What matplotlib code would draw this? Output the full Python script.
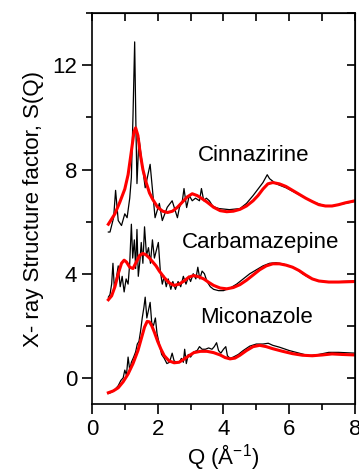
import matplotlib
matplotlib.use("Agg")
import matplotlib.pyplot as plt
from matplotlib.ticker import MultipleLocator

plt.rcParams['font.family'] = ['Liberation Sans', 'DejaVu Sans']

# measured S(Q), black curves
cin_q = [0.5, 0.55, 0.66, 0.72, 0.8, 0.9, 1.0, 1.07, 1.15, 1.2, 1.25, 1.3, 1.34, 1.37, 1.43, 1.53,
         1.62, 1.77, 1.92, 2.05, 2.14, 2.29, 2.44, 2.6, 2.66, 2.75, 2.8, 2.88, 2.96, 3.05, 3.15,
         3.27, 3.33, 3.4, 3.48, 3.57, 3.67, 3.77, 3.87, 4.18, 4.5, 4.7, 4.9, 5.2, 5.33, 5.4, 5.6,
         5.9, 6.2, 6.5, 6.8, 7.1, 7.4, 7.7, 8.0]
cin_s = [5.6, 5.6, 6.15, 7.2, 6.04, 5.85, 6.3, 6.15, 6.9, 7.7, 10.1, 12.9, 9.5, 7.46, 9.2, 8.2,
         7.3, 8.2, 6.15, 6.7, 6.04, 6.55, 6.8, 6.15, 6.54, 6.8, 7.27, 6.54, 7.0, 6.8, 6.9,
         6.8, 7.27, 6.8, 6.9, 6.8, 6.6, 6.54, 6.5, 6.46, 6.5, 6.7, 7.0, 7.5, 7.8, 7.65, 7.45,
         7.3, 7.1, 6.9, 6.72, 6.6, 6.62, 6.7, 6.78]

car_q = [0.5, 0.55, 0.6, 0.64, 0.68, 0.74, 0.8, 0.86, 0.92, 0.98, 1.04, 1.1, 1.15, 1.2, 1.24,
         1.29, 1.33, 1.37, 1.41, 1.46, 1.5, 1.55, 1.6, 1.66, 1.72, 1.78, 1.84, 1.9, 1.96, 2.02,
         2.08, 2.14, 2.2, 2.26, 2.32, 2.4, 2.46, 2.54, 2.62, 2.7, 2.78, 2.86, 2.94, 3.0, 3.08,
         3.16, 3.22, 3.28, 3.35, 3.42, 3.5, 3.6, 3.7, 3.85, 4.0, 4.2, 4.4, 4.6, 4.8, 5.0, 5.2,
         5.4, 5.6, 5.8, 6.0, 6.2, 6.4, 6.6, 6.8, 7.0, 7.3, 7.6, 8.0]
car_s = [3.1, 3.2, 3.6, 4.4, 3.5, 3.8, 4.3, 3.5, 3.9, 3.3, 3.8, 3.6, 4.4, 5.9, 4.6,
         5.3, 4.2, 5.7, 3.9, 4.5, 5.2, 4.4, 5.8, 4.7, 5.0, 4.4, 5.3, 4.6, 4.9, 5.2,
         4.1, 3.6, 3.9, 3.5, 3.8, 3.4, 3.7, 3.4, 3.7, 3.5, 3.9, 3.6, 3.9, 3.7, 4.0,
         3.8, 4.25, 3.8, 4.1, 4.0, 3.7, 3.5, 3.4, 3.35, 3.35, 3.45, 3.6, 3.8, 4.0, 4.15, 4.3,
         4.4, 4.42, 4.38, 4.3, 4.2, 4.0, 3.85, 3.75, 3.7, 3.68, 3.7, 3.72]

mic_q = [0.5, 0.6, 0.7, 0.8, 0.88, 0.95, 1.0, 1.05, 1.1, 1.15, 1.2, 1.27, 1.33, 1.38, 1.43,
         1.48, 1.53, 1.58, 1.62, 1.67, 1.72, 1.77, 1.82, 1.87, 1.93, 1.98, 2.05, 2.12, 2.2,
         2.28, 2.36, 2.44, 2.5, 2.58, 2.66, 2.72, 2.78, 2.82, 2.87, 2.93, 3.0, 3.1, 3.2, 3.27,
         3.35, 3.45, 3.55, 3.65, 3.72, 3.79, 3.85, 3.92, 4.0, 4.07, 4.12, 4.2, 4.3, 4.45, 4.6,
         4.8, 5.0, 5.2, 5.36, 5.5, 5.7, 6.0, 6.3, 6.6, 6.9, 7.2, 7.5, 8.0]
mic_s = [-0.6, -0.55, -0.45, -0.3, -0.1, 0.0, 0.3, 0.1, 0.8, 0.3, 0.6, 0.8, 1.0, 1.3, 1.4,
         1.8, 2.3, 2.7, 3.1, 2.3, 2.6, 2.9, 2.1, 2.0, 2.3, 1.7, 1.3, 0.9, 0.75,
         0.55, 0.6, 0.95, 0.65, 0.6, 0.6, 0.75, 0.6, 1.1, 0.55, 0.9, 0.8, 1.0, 1.05, 1.2,
         1.1, 1.1, 1.15, 1.1, 1.2, 1.35, 1.05, 0.95, 1.1, 1.2, 0.85, 0.75, 0.8, 0.9, 1.05,
         1.22, 1.3, 1.3, 1.33, 1.25, 1.18, 1.05, 0.95, 0.85, 0.9, 0.98, 0.98, 0.95]

# fitted S(Q), red curves
cin_fit_q = [0.5, 0.7, 0.85, 1.0, 1.1, 1.2, 1.28, 1.33, 1.4, 1.47, 1.55, 1.65, 1.75, 1.85, 2.0,
             2.15, 2.3, 2.45, 2.6, 2.75, 2.9, 3.05, 3.2, 3.35, 3.5, 3.7, 3.9, 4.1, 4.3, 4.5,
             4.7, 4.9, 5.05, 5.2, 5.35, 5.5, 5.7, 5.9, 6.1, 6.3, 6.5, 6.7, 6.9, 7.1, 7.3, 7.5,
             7.7, 8.0]
cin_fit_s = [5.9, 6.3, 6.75, 7.25, 7.8, 8.7, 9.45, 9.6, 9.3, 8.6, 8.0, 7.5, 7.1, 6.85, 6.55,
             6.4, 6.35, 6.4, 6.55, 6.75, 6.95, 7.07, 7.0, 6.88, 6.75, 6.55, 6.42, 6.38, 6.4, 6.47,
             6.6, 6.8, 7.0, 7.25, 7.45, 7.5, 7.45, 7.35, 7.2, 7.05, 6.9, 6.77, 6.65, 6.6, 6.6, 6.65,
             6.72, 6.8]

car_fit_q = [0.5, 0.6, 0.7, 0.8, 0.9, 0.98, 1.05, 1.15, 1.25, 1.35, 1.45, 1.55, 1.65, 1.75, 1.85,
             1.95, 2.05, 2.2, 2.35, 2.5, 2.65, 2.8, 2.95, 3.1, 3.25, 3.4, 3.55, 3.7, 3.9, 4.1,
             4.3, 4.5, 4.7, 4.9, 5.1, 5.3, 5.5, 5.7, 5.9, 6.1, 6.3, 6.5, 6.7, 6.9, 7.2, 7.5, 8.0]
car_fit_s = [3.0, 3.15, 3.5, 4.0, 4.4, 4.52, 4.45, 4.25, 4.2, 4.45, 4.7, 4.78, 4.72, 4.6, 4.45,
             4.3, 4.1, 3.85, 3.65, 3.55, 3.6, 3.72, 3.87, 3.93, 3.88, 3.8, 3.67, 3.55, 3.45, 3.42,
             3.47, 3.58, 3.75, 3.95, 4.15, 4.3, 4.38, 4.38, 4.33, 4.25, 4.12, 3.95, 3.8, 3.72, 3.68,
             3.68, 3.7]

mic_fit_q = [0.5, 0.65, 0.8, 0.95, 1.1, 1.25, 1.4, 1.5, 1.6, 1.68, 1.75, 1.82, 1.9, 2.0, 2.1,
             2.2, 2.35, 2.5, 2.65, 2.8, 2.95, 3.1, 3.3, 3.5, 3.7, 3.9, 4.05, 4.2, 4.35, 4.5,
             4.7, 4.9, 5.1, 5.3, 5.5, 5.8, 6.1, 6.4, 6.7, 7.0, 7.3, 7.6, 8.0]
mic_fit_s = [-0.57, -0.5, -0.38, -0.15, 0.15, 0.55, 1.05, 1.5, 1.95, 2.17, 2.15, 2.0, 1.75, 1.4, 1.1,
             0.85, 0.65, 0.58, 0.6, 0.72, 0.85, 0.97, 1.02, 1.02, 0.97, 0.88, 0.78, 0.73, 0.76, 0.87,
             1.05, 1.2, 1.25, 1.2, 1.12, 1.02, 0.93, 0.87, 0.85, 0.88, 0.92, 0.9, 0.88]

labels = ['Cinnazirine', 'Carbamazepine', 'Miconazole']
label_pos = [(4.92, 8.55), (5.13, 5.2), (5.0, 2.3)]

fig = plt.figure(figsize=(3.59, 4.73), dpi=100)
ax = fig.add_axes([0.256, 0.146, 0.733, 0.826])

for q, s in [(cin_q, cin_s), (car_q, car_s), (mic_q, mic_s)]:
    ax.plot(q, s, color='black', lw=0.9)
for q, s in [(cin_fit_q, cin_fit_s), (car_fit_q, car_fit_s), (mic_fit_q, mic_fit_s)]:
    ax.plot(q, s, color='#ff0000', lw=2.2)

for name, (x, y) in zip(labels, label_pos):
    ax.text(x, y, name, fontsize=16, ha='center', va='center')

ax.set_xlim(0, 8)
ax.set_ylim(-1, 14)
ax.xaxis.set_major_locator(MultipleLocator(2))
ax.xaxis.set_minor_locator(MultipleLocator(1))
ax.yaxis.set_major_locator(MultipleLocator(4))
ax.yaxis.set_minor_locator(MultipleLocator(2))
ax.tick_params(which='major', direction='out', length=7, width=1.2, labelsize=16)
ax.tick_params(which='minor', direction='out', length=4, width=1.2)
for sp in ax.spines.values():
    sp.set_linewidth(1.2)

top = ax.secondary_xaxis('top')
top.xaxis.set_major_locator(MultipleLocator(1))
top.tick_params(direction='in', length=6, width=1.2, labeltop=False)
right = ax.secondary_yaxis('right')
right.yaxis.set_major_locator(MultipleLocator(2))
right.tick_params(direction='in', length=6, width=1.2, labelright=False)

ax.set_xlabel('Q (Å$^{\\mathregular{-1}}$)', fontsize=16, labelpad=2)
ax.set_ylabel('X- ray Structure factor, S(Q)', fontsize=16, labelpad=6)

fig.savefig('out.png', dpi=100)
